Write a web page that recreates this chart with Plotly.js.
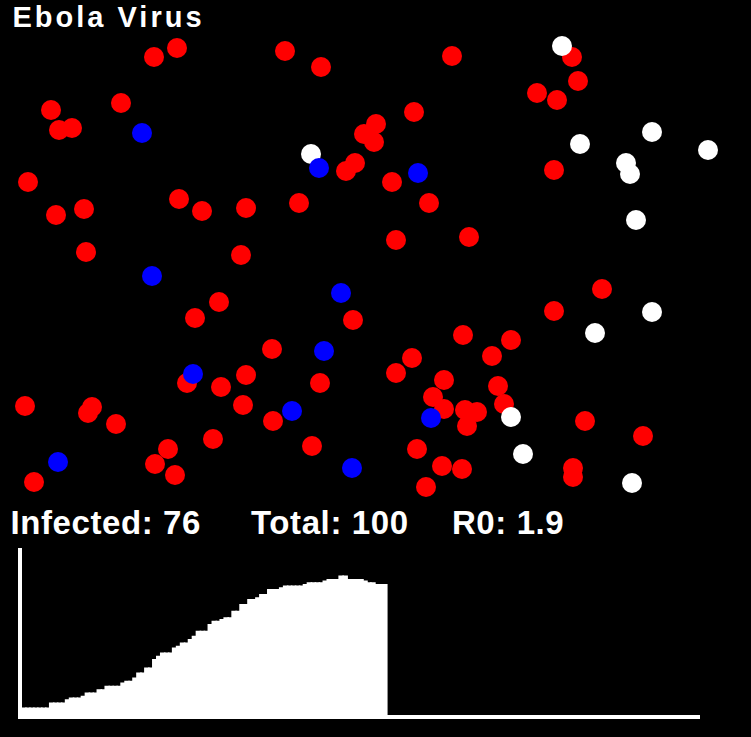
<!DOCTYPE html>
<html>
<head>
<meta charset="utf-8">
<script src="https://cdn.plot.ly/plotly-3.0.1.min.js"></script>
<style>
  html, body { margin: 0; padding: 0; background: #000; }
  #chart { width: 751px; height: 737px; }
  g.annotation[data-index="0"] text { letter-spacing: 3px; }
  g.annotation[data-index="1"] text,
  g.annotation[data-index="2"] text,
  g.annotation[data-index="3"] text { letter-spacing: 0.6px; }
</style>
</head>
<body>
<div id="chart"></div>
<script>
// ---- simulation world (751 x 500 units) ----
const infectedX = [154,177,285,321,452,572,578,537,557,51,
  121,59,72,414,376,364,374,346,355,28,
  56,84,179,202,246,299,392,429,554,86,
  241,396,469,219,195,353,602,554,463,511,
  492,272,412,396,246,221,187,320,444,498,
  433,25,92,88,116,243,273,312,213,168,
  155,175,34,417,444,465,477,467,504,585,
  643,442,462,426,573,573];
const infectedY = [57,48,51,67,56,57,81,93,100,110,
  103,130,128,112,124,134,142,171,163,182,
  215,209,199,211,208,203,182,203,170,252,
  255,240,237,302,318,320,289,311,335,340,
  356,349,358,373,375,387,383,383,380,386,
  397,406,407,413,424,405,421,446,439,449,
  464,475,482,449,409,410,412,426,404,421,
  436,466,469,487,468,477];

const recoveredX = [562,652,580,708,626,630,636,311,652,595,511,523,632];
const recoveredY = [46,132,144,150,163,174,220,154,312,333,417,454,483];

const healthyX = [142,319,418,152,341,324,193,292,431,58,352];
const healthyY = [133,168,173,276,293,351,374,411,418,462,468];

// ---- infected count history ----
const history = [4,4,4,4,4,4,4,7,7,7,
  7,9,10,10,10,11,13,13,13,15,
  15,17,17,17,17,19,20,20,22,25,
  25,28,28,33,35,37,37,37,40,41,
  43,43,45,47,50,50,50,54,56,56,
  57,58,58,62,62,66,66,69,69,70,
  72,72,75,75,75,76,77,77,77,77,
  77,78,79,79,79,79,80,81,81,81,
  83,83,81,81,81,81,80,79,79,78,
  78,78];
const steps = history.map((_, i) => i + 0.5);

const titleText = "Ebola Virus";
const infected = 76;
const total = 100;
const r0 = 1.9;

const W = 751, H = 737;
const px = v => (H - v) / H; // paper y from pixel row

const traces = [
  {x: infectedX, y: infectedY, type: 'scatter', mode: 'markers', xaxis: 'x', yaxis: 'y',
   marker: {color: '#ff0000', size: 20, line: {width: 0}}, hoverinfo: 'skip'},
  {x: recoveredX, y: recoveredY, type: 'scatter', mode: 'markers', xaxis: 'x', yaxis: 'y',
   marker: {color: '#ffffff', size: 20, line: {width: 0}}, hoverinfo: 'skip'},
  {x: healthyX, y: healthyY, type: 'scatter', mode: 'markers', xaxis: 'x', yaxis: 'y',
   marker: {color: '#0000ff', size: 20, line: {width: 0}}, hoverinfo: 'skip'},
  {x: steps, y: history, type: 'bar', xaxis: 'x2', yaxis: 'y2', width: 1,
   marker: {color: '#ffffff', line: {color: '#ffffff', width: 1.6}}, hoverinfo: 'skip'}
];

const font = 'Liberation Sans, Arial, Helvetica, sans-serif';
const layout = {
  width: W, height: H,
  paper_bgcolor: '#000000', plot_bgcolor: 'rgba(0,0,0,0)',
  margin: {l: 0, r: 0, t: 0, b: 0, pad: 0},
  showlegend: false,
  bargap: 0,
  xaxis: {domain: [0, 1], range: [0, 751], visible: false, fixedrange: true},
  yaxis: {domain: [px(500), 1], range: [500, 0], visible: false, fixedrange: true},
  xaxis2: {domain: [22 / W, 700 / W], range: [0, 171], anchor: 'y2',
    showline: true, linecolor: '#ffffff', linewidth: 4, showgrid: false, zeroline: false,
    showticklabels: false, ticks: '', fixedrange: true},
  yaxis2: {domain: [px(715), px(548)], range: [0, 100], anchor: 'x2',
    showline: true, linecolor: '#ffffff', linewidth: 4, showgrid: false, zeroline: false,
    showticklabels: false, ticks: '', fixedrange: true},
  annotations: [
    {text: titleText, xref: 'paper', yref: 'paper', x: 28 / W, y: 1,
     xanchor: 'left', yanchor: 'top', showarrow: false, borderpad: 0,
     font: {family: font, size: 29, weight: 'bold', color: '#ffffff'}},
    {text: 'Infected: ' + infected, xref: 'paper', yref: 'paper', x: 12 / W, y: px(502),
     xanchor: 'left', yanchor: 'top', showarrow: false,
     font: {family: font, size: 33, weight: 'bold', color: '#ffffff'}},
    {text: 'Total: ' + total, xref: 'paper', yref: 'paper', x: 252 / W, y: px(502),
     xanchor: 'left', yanchor: 'top', showarrow: false,
     font: {family: font, size: 33, weight: 'bold', color: '#ffffff'}},
    {text: 'R0: ' + r0, xref: 'paper', yref: 'paper', x: 452 / W, y: px(502),
     xanchor: 'left', yanchor: 'top', showarrow: false,
     font: {family: font, size: 33, weight: 'bold', color: '#ffffff'}}
  ]
};

Plotly.newPlot('chart', traces, layout, {displayModeBar: false, staticPlot: true});
</script>
</body>
</html>
